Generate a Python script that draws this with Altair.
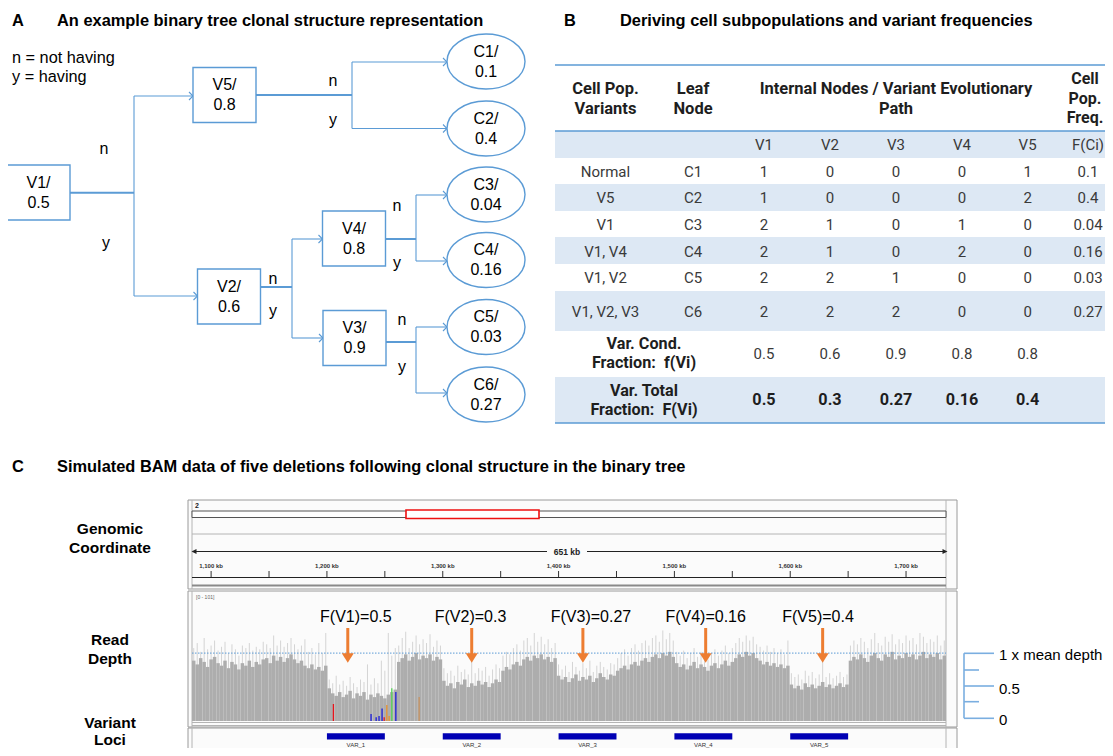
import altair as alt
import pandas as pd

W, H, M = 1097, 740, 8
ARIAL = "Liberation Sans"
TFONT = "Roboto"
BLUE = "#5b9bd5"
NB = "\u00a0"

# ---------------- data: panel A (tree) ----------------
node_names = ["V1", "V5", "V2", "V4", "V3"]
node_frac = ["0.5", "0.8", "0.6", "0.8", "0.9"]
leaf_names = ["C1", "C2", "C3", "C4", "C5", "C6"]
leaf_frac = ["0.1", "0.4", "0.04", "0.16", "0.03", "0.27"]

# ---------------- data: panel B (table) ----------------
cell_variants = ["Normal", "V5", "V1", "V1, V4", "V1, V2", "V1, V2, V3"]
leaf_nodes = ["C1", "C2", "C3", "C4", "C5", "C6"]
variant_cols = ["V1", "V2", "V3", "V4", "V5"]
path_matrix = [
    [1, 0, 0, 0, 1],
    [1, 0, 0, 0, 2],
    [2, 1, 0, 1, 0],
    [2, 1, 0, 2, 0],
    [2, 2, 1, 0, 0],
    [2, 2, 2, 0, 0],
]
cell_freq = ["0.1", "0.4", "0.04", "0.16", "0.03", "0.27"]
cond_frac = ["0.5", "0.6", "0.9", "0.8", "0.8"]
total_frac = ["0.5", "0.3", "0.27", "0.16", "0.4"]

# ---------------- data: panel C (read depth, 3 kb bins) ----------------
bin_start_kb = 1083.5
bin_kb = 3.0
depth_r1 = [48, 45, 50, 47, 43, 49, 51, 46, 44, 48, 42, 47, 45, 41, 46, 44, 48, 43, 47, 45,
            49, 50, 46, 52, 48, 51, 47, 50, 53, 49, 46, 48, 44, 42, 45, 41, 43, 40, 44]
depth_v1 = [26, 22, 20, 23, 19, 21, 24, 18, 22, 20, 23, 17, 21, 19, 22, 20, 18, 21, 23, 25]
depth_r3 = [47, 50, 53, 48, 51, 54, 49, 52, 50, 53, 48, 51, 49]
depth_v2 = [32, 28, 30, 26, 31, 29, 33, 27, 30, 28, 32, 29, 31, 27, 30, 33, 31]
depth_r5 = [40, 43, 41, 45, 47, 44, 49, 51, 48, 52, 50, 53, 49, 51, 47, 50]
depth_v3 = [36, 33, 35, 31, 34, 37, 32, 35, 33, 36, 31, 34, 38, 35, 33, 37, 36]
depth_r7 = [40, 42, 44, 41, 45, 47, 44, 48, 50, 47, 51, 53, 50, 54, 52, 55, 51]
depth_v4 = [46, 43, 45, 41, 44, 47, 42, 45, 43, 40, 44, 46, 42, 45, 48, 44, 47]
depth_r9 = [50, 53, 51, 55, 52, 54, 50, 48, 45, 47, 44, 46, 43, 45, 42, 44]
depth_v5 = [29, 26, 28, 25, 30, 27, 29, 26, 28, 31, 27, 29, 26, 28, 30, 27, 29]
depth_r11 = [48, 51, 49, 53, 50, 47, 52, 54, 50, 48, 53, 51, 55, 49, 52, 50, 54, 51, 53, 49,
             52, 55, 50, 53, 51, 54, 49, 52]

peak_r1 = [58, 62, 55, 66, 57, 60, 64, 56, 59, 63, 54, 61, 57, 52, 60, 58, 62, 56, 59, 57,
           63, 61, 58, 68, 60, 64, 59, 62, 66, 61, 57, 60, 65, 55, 58, 53, 62, 54, 70]
peak_v1 = [33, 30, 36, 29, 32, 28, 35, 30, 27, 33, 31, 45, 29, 34, 30, 48, 40, 70, 52, 58]
peak_r3 = [60, 66, 71, 58, 63, 68, 61, 65, 62, 69, 59, 64, 60]
peak_v2 = [42, 38, 40, 36, 44, 39, 41, 37, 49, 38, 42, 40, 43, 36, 41, 45, 42]
peak_r5 = [52, 55, 53, 58, 61, 56, 64, 66, 60, 70, 63, 67, 61, 65, 58, 62]
peak_v3 = [45, 41, 44, 39, 47, 43, 40, 46, 42, 48, 39, 44, 47, 43, 41, 46, 45]
peak_r7 = [50, 54, 57, 52, 58, 61, 56, 62, 64, 60, 66, 68, 63, 72, 65, 70, 64]
peak_v4 = [55, 52, 56, 50, 54, 58, 51, 55, 53, 49, 54, 57, 52, 56, 60, 54, 58]
peak_r9 = [62, 66, 63, 68, 64, 67, 61, 59, 56, 60, 55, 58, 54, 57, 53, 64]
peak_v5 = [38, 35, 37, 33, 40, 36, 39, 34, 37, 52, 35, 38, 34, 36, 39, 35, 37]
peak_r11 = [60, 64, 61, 66, 63, 58, 65, 70, 62, 60, 67, 63, 69, 61, 65, 62, 68, 64, 66, 61,
            70, 67, 62, 65, 63, 68, 60, 64]

mean_depth = 54
snv_kb = [1205.6, 1238.1, 1242.5, 1245.0, 1247.6, 1249.4, 1251.7, 1253.7, 1256.0, 1259.5, 1279.6]
snv_depth = [13.5, 5.6, 3, 4, 10, 3, 12.7, 4, 26, 23, 19]
snv_color = ["#e8141c", "#1b1bd9", "#1b1bd9", "#1b1bd9", "#1b1bd9", "#e8141c", "#e8902a",
             "#e8902a", "#55d455", "#1b1bd9", "#c8925e"]

var_names = ["VAR_1", "VAR_2", "VAR_3", "VAR_4", "VAR_5"]
var_start_kb = [1200, 1300, 1400, 1500, 1600]
var_end_kb = [1250, 1350, 1450, 1550, 1650]
var_freq_labels = ["F(V1)=0.5", "F(V2)=0.3", "F(V3)=0.27", "F(V4)=0.16", "F(V5)=0.4"]
arrow_kb = [1218, 1325, 1421, 1527, 1628]
label_kb = [1225, 1324, 1428, 1527, 1624]
ruler_tick_kb = list(range(1100, 1701, 50))
ruler_label_kb = list(range(1100, 1701, 100))

# ---------------- scales ----------------
def CX():
    return alt.Scale(domain=[M, M + W], range=[0, W], nice=False, zero=False)

def CY():
    return alt.Scale(domain=[M, M + H], range=[0, H], nice=False, zero=False)

def KB():
    return alt.Scale(domain=[1083.5, 1734.5], range=[192 - M, 946 - M], nice=False, zero=False)

def RD():
    return alt.Scale(domain=[0, 101], range=[721 - M, 594 - M], nice=False, zero=False)

def X(f, s=None):
    return alt.X(f, type="quantitative", scale=s if s is not None else CX(), axis=None)

def Y(f, s=None):
    return alt.Y(f, type="quantitative", scale=s if s is not None else CY(), axis=None)

def lines(items, gap):
    """split (x, first_line_y, 'a\\nb') into one row per text line"""
    rows = []
    for x, y, t in items:
        for i, part in enumerate(t.split("\n")):
            rows.append({"x": x, "y": y + i * gap, "t": part})
    return pd.DataFrame(rows)

def text_layer(df, **mk):
    return alt.Chart(df).mark_text(**mk).encode(x=X("x"), y=Y("y"), text="t:N")

def seg_layer(df, **mk):
    return alt.Chart(df).mark_rule(**mk).encode(x=X("x"), x2=alt.X2("x2"), y=Y("y"), y2=alt.Y2("y2"))

def rect_layer(df, **mk):
    return alt.Chart(df).mark_rect(**mk).encode(x=X("x"), x2=alt.X2("x2"), y=Y("y"), y2=alt.Y2("y2"))

L = []

# ---------------- titles ----------------
L.append(text_layer(pd.DataFrame({"x": [12, 564, 12], "y": [21, 21, 467], "t": ["A", "B", "C"]}),
                    font=ARIAL, fontSize=16.4, fontWeight="bold", align="left", baseline="middle", color="black"))
L.append(text_layer(pd.DataFrame({
    "x": [57, 620, 57], "y": [21, 21, 467],
    "t": ["An example binary tree clonal structure representation",
          "Deriving cell subpopulations and variant frequencies",
          "Simulated BAM data of five deletions following clonal structure in the binary tree"]}),
    font=ARIAL, fontSize=16.4, fontWeight="bold", align="left", baseline="middle", color="black"))

# ---------------- panel A: tree ----------------
L.append(text_layer(pd.DataFrame({"x": [12, 12], "y": [58, 77], "t": ["n = not having", "y = having"]}),
                    font=ARIAL, fontSize=16.3, align="left", baseline="middle", color="black"))

box_cx = [38.5, 224.5, 229, 354, 354.5]
box_cy = [192.5, 95, 296.5, 238.5, 338]
box_w, box_h = 63, 55
leaf_cx = 486
leaf_cy = [61.5, 128.5, 194.5, 260, 327, 394.5]
leaf_left = 447
line_gap = 20

# parent index -> (junction x, stem y, [(child y, child left x)])
tree_links = {
    0: (134, 192.7, [(96, 193), (296, 197.5)]),
    1: (352, 95, [(62, leaf_left), (128.5, leaf_left)]),
    2: (292, 287, [(239, 322.5), (338, 323)]),
    3: (416, 239, [(195, leaf_left), (261, leaf_left)]),
    4: (416, 342, [(327, leaf_left), (393, leaf_left)]),
}
stems, branches, heads = [], [], []
for p, (jx, sy, kids) in tree_links.items():
    stems.append({"x": box_cx[p] + box_w / 2, "x2": jx, "y": sy, "y2": sy})
    branches.append({"x": jx, "x2": jx, "y": kids[0][0], "y2": kids[1][0]})
    for ky, kx in kids:
        branches.append({"x": jx, "x2": kx, "y": ky, "y2": ky})
        heads.append({"x": kx, "y": ky})
L.append(seg_layer(pd.DataFrame(branches), color=BLUE, strokeWidth=1.1))
L.append(seg_layer(pd.DataFrame(stems), color=BLUE, strokeWidth=2))
L.append(alt.Chart(pd.DataFrame(heads)).mark_point(
    shape="M-1,-1L0,0L-1,1", size=64, filled=False, stroke=BLUE, strokeWidth=1.1, opacity=1
).encode(x=X("x"), y=Y("y")))

boxes = pd.DataFrame({
    "x": [c - box_w / 2 for c in box_cx], "x2": [c + box_w / 2 for c in box_cx],
    "y": [c - box_h / 2 for c in box_cy], "y2": [c + box_h / 2 for c in box_cy]})
L.append(rect_layer(boxes, fill="white", stroke=BLUE, strokeWidth=1.4))
L.append(alt.Chart(pd.DataFrame({"x": [leaf_cx] * 6, "y": leaf_cy})).mark_point(
    shape="M-1,0A1,0.705,0,1,1,1,0A1,0.705,0,1,1,-1,0Z", size=6084, filled=True,
    fill="white", stroke=BLUE, strokeWidth=1.4, opacity=1
).encode(x=X("x"), y=Y("y")))

node_items = ([(x, y - line_gap / 2, f"{n}/\n{v}") for x, y, n, v in zip(box_cx, box_cy, node_names, node_frac)] +
              [(leaf_cx, y - line_gap / 2, f"{n}/\n{v}") for y, n, v in zip(leaf_cy, leaf_names, leaf_frac)])
L.append(text_layer(lines(node_items, line_gap), font=ARIAL, fontSize=16, align="center",
                    baseline="middle", color="black"))

ny = pd.DataFrame({
    "x": [104, 106, 333, 333, 273, 273, 397, 397, 402, 402],
    "y": [149, 243, 81, 120, 279, 311, 206, 263, 320, 367],
    "t": ["n", "y"] * 5})
L.append(text_layer(ny, font=ARIAL, fontSize=16, align="center", baseline="middle", color="black"))

# ---------------- panel B: table ----------------
tbl_x0, tbl_x1 = 555, 1113
shade = pd.DataFrame({"x": [tbl_x0] * 5, "x2": [tbl_x1] * 5,
                      "y": [131, 184, 237, 291, 377], "y2": [158, 211, 264, 331, 423]})
L.append(rect_layer(shade, fill="#dde8f4", strokeWidth=0))
L.append(seg_layer(pd.DataFrame({"x": [tbl_x0] * 3, "x2": [tbl_x1] * 3,
                                 "y": [65, 131, 423], "y2": [65, 131, 423]}),
                   color=BLUE, strokeWidth=1.6))

col_x = [605.5, 693, 764, 830, 896, 962, 1027.6, 1088]
row_y = [172, 198, 225, 252, 278, 312]
hdr = lines([(605.5, 89, "Cell Pop.\nVariants"), (693, 89, "Leaf\nNode"),
             (896, 89, "Internal Nodes / Variant Evolutionary\nPath")], 19.5)
L.append(text_layer(hdr, font=TFONT, fontSize=16.5, fontWeight="bold", align="center",
                    baseline="middle", color="#1e1e1e"))
L.append(text_layer(lines([(1085, 79, "Cell\nPop.\nFreq.")], 19.5), font=TFONT, fontSize=16,
                    fontWeight="bold", align="center", baseline="middle", color="#1e1e1e"))

body = []
for k, v in enumerate(variant_cols):
    body.append({"x": col_x[2 + k], "y": 145, "t": v})
body.append({"x": col_x[7], "y": 145, "t": "F(Ci)"})
for r in range(6):
    body.append({"x": col_x[0], "y": row_y[r], "t": cell_variants[r]})
    body.append({"x": col_x[1], "y": row_y[r], "t": leaf_nodes[r]})
    for k in range(5):
        body.append({"x": col_x[2 + k], "y": row_y[r], "t": str(path_matrix[r][k])})
    body.append({"x": col_x[7], "y": row_y[r], "t": cell_freq[r]})
for k in range(5):
    body.append({"x": col_x[2 + k], "y": 354, "t": cond_frac[k]})
L.append(text_layer(pd.DataFrame(body), font=TFONT, fontSize=15, align="center",
                    baseline="middle", color="#3a3a3a"))

bold_rows = lines([(644, 344, f"Var. Cond.\nFraction:{NB}{NB}f(Vi)"),
                   (644, 391, f"Var. Total\nFraction:{NB}{NB}F(Vi)")], 19)
bold_vals = pd.DataFrame({"x": col_x[2:7], "y": [400] * 5, "t": total_frac})
L.append(text_layer(pd.concat([bold_rows, bold_vals], ignore_index=True), font=TFONT,
                    fontSize=16.2, fontWeight="bold", align="center", baseline="middle",
                    color="#1e1e1e"))

# ---------------- panel C: IGV view ----------------
L.append(text_layer(pd.DataFrame({"x": [110] * 6, "y": [529, 548, 640, 659, 723, 740],
                                  "t": ["Genomic", "Coordinate", "Read", "Depth", "Variant", "Loci"]}),
                    font=ARIAL, fontSize=15.5, fontWeight="bold", align="center", baseline="middle",
                    color="black"))

frames = pd.DataFrame({"x": [188, 188, 188], "x2": [957, 957, 957],
                       "y": [500, 591, 728], "y2": [589, 727, 775]})
L.append(rect_layer(frames, fill="#fbfbfb", stroke="#9a9a9a", strokeWidth=1))
inner = []
for y0, y1 in [(500, 589), (591, 727), (728, 775)]:
    inner.append({"x": 192, "x2": 192, "y": y0, "y2": y1})
    inner.append({"x": 946, "x2": 946, "y": y0, "y2": y1})
inner += [{"x": 192, "x2": 946, "y": 534, "y2": 534},
          {"x": 192, "x2": 946, "y": 722.5, "y2": 722.5},
          {"x": 192, "x2": 946, "y": 725.5, "y2": 725.5}]
L.append(seg_layer(pd.DataFrame(inner), color="#b4b4b4", strokeWidth=1))

L.append(rect_layer(pd.DataFrame({"x": [192], "x2": [946], "y": [511], "y2": [517.5]}),
                    fill="white", stroke="#555555", strokeWidth=1))
L.append(rect_layer(pd.DataFrame({"x": [406], "x2": [539], "y": [510], "y2": [518.5]}),
                    fill="white", stroke="#ee1111", strokeWidth=1.6))
L.append(text_layer(pd.DataFrame({"x": [195], "y": [506], "t": ["2"]}),
                    font=ARIAL, fontSize=7, fontWeight="bold", align="left", baseline="middle",
                    color="#222"))
L.append(seg_layer(pd.DataFrame({"x": [196, 192], "x2": [943, 946], "y": [551.5, 577.5],
                                 "y2": [551.5, 577.5]}), color="#222", strokeWidth=1))
L.append(seg_layer(pd.DataFrame({"x": [192], "x2": [946], "y": [585.5], "y2": [585.5]}),
                   color="#8a8a8a", strokeWidth=2))
L.append(alt.Chart(pd.DataFrame({"x": [194, 945], "y": [551.5, 551.5],
                                 "s": ["M1,-1L-1,0L1,1Z", "M-1,-1L1,0L-1,1Z"]})).mark_point(
    filled=True, size=25, color="#222", opacity=1
).encode(x=X("x"), y=Y("y"), shape=alt.Shape("s:N", scale=None)))
L.append(rect_layer(pd.DataFrame({"x": [547], "x2": [587], "y": [546], "y2": [557]}),
                    fill="#fbfbfb", strokeWidth=0))
L.append(text_layer(pd.DataFrame({"x": [567], "y": [551.5], "t": ["651 kb"]}),
                    font=ARIAL, fontSize=8.5, fontWeight="bold", align="center", baseline="middle",
                    color="#222"))

L.append(alt.Chart(pd.DataFrame({"kb": ruler_tick_kb, "y": [571] * len(ruler_tick_kb),
                                 "y2": [577] * len(ruler_tick_kb)})).mark_rule(
    color="#333", strokeWidth=1).encode(x=X("kb", KB()), y=Y("y"), y2=alt.Y2("y2")))
L.append(alt.Chart(pd.DataFrame({"kb": ruler_label_kb, "y": [565.5] * len(ruler_label_kb),
                                 "t": [f"{k:,} kb" for k in ruler_label_kb]})).mark_text(
    font=ARIAL, fontSize=6, fontWeight="bold", align="center", baseline="middle", color="#333"
).encode(x=X("kb", KB()), y=Y("y"), text="t:N"))

# coverage
depth = (depth_r1 + depth_v1 + depth_r3 + depth_v2 + depth_r5 + depth_v3 + depth_r7 +
         depth_v4 + depth_r9 + depth_v5 + depth_r11)
peak = (peak_r1 + peak_v1 + peak_r3 + peak_v2 + peak_r5 + peak_v3 + peak_r7 +
        peak_v4 + peak_r9 + peak_v5 + peak_r11)
n = len(depth)
cov = pd.DataFrame({
    "s": [bin_start_kb + bin_kb * i for i in range(n)],
    "e": [bin_start_kb + bin_kb * (i + 1) for i in range(n)],
    "c": [bin_start_kb + bin_kb * (i + 0.5) for i in range(n)],
    "d": depth, "p": peak, "z": [0] * n})
L.append(text_layer(pd.DataFrame({"x": [196], "y": [597], "t": ["[0 - 101]"]}),
                    font=ARIAL, fontSize=5, align="left", baseline="middle", color="#666"))
L.append(alt.Chart(cov).mark_rule(color="#d4d4d4", strokeWidth=1).encode(
    x=X("c", KB()), y=Y("z", RD()), y2=alt.Y2("p")))
L.append(alt.Chart(cov).mark_rect(color="#adadad").encode(
    x=X("s", KB()), x2=alt.X2("e"), y=Y("z", RD()), y2=alt.Y2("d")))
L.append(alt.Chart(pd.DataFrame({"kb": snv_kb, "d": snv_depth, "col": snv_color,
                                 "z": [0] * len(snv_kb)})).mark_rule(strokeWidth=1.3).encode(
    x=X("kb", KB()), y=Y("z", RD()), y2=alt.Y2("d"), color=alt.Color("col:N", scale=None)))
L.append(alt.Chart(pd.DataFrame({"a": [1083.5], "b": [1734.5], "m": [mean_depth]})).mark_rule(
    color=BLUE, strokeWidth=1, strokeDash=[1.5, 1.5]).encode(
    x=X("a", KB()), x2=alt.X2("b"), y=Y("m", RD())))

# orange arrows and labels
L.append(alt.Chart(pd.DataFrame({"kb": arrow_kb, "y": [628] * 5, "y2": [655] * 5})).mark_rule(
    color="#ed7d31", strokeWidth=3).encode(x=X("kb", KB()), y=Y("y"), y2=alt.Y2("y2")))
L.append(alt.Chart(pd.DataFrame({"kb": arrow_kb, "y": [658] * 5})).mark_point(
    shape="M-1,-0.8L1,-0.8L0,0.8Z", size=144, filled=True, color="#ed7d31", opacity=1
).encode(x=X("kb", KB()), y=Y("y")))
L.append(alt.Chart(pd.DataFrame({"kb": label_kb, "y": [617] * 5, "t": var_freq_labels})).mark_text(
    font=ARIAL, fontSize=16, align="center", baseline="middle", color="black"
).encode(x=X("kb", KB()), y=Y("y"), text="t:N"))

# variant loci track
L.append(alt.Chart(pd.DataFrame({"s": var_start_kb, "e": var_end_kb, "y": [733.3] * 5,
                                 "y2": [739.5] * 5})).mark_rect(color="#0000b4").encode(
    x=X("s", KB()), x2=alt.X2("e"), y=Y("y"), y2=alt.Y2("y2")))
L.append(alt.Chart(pd.DataFrame({"kb": [(a + b) / 2 for a, b in zip(var_start_kb, var_end_kb)],
                                 "y": [744.5] * 5, "t": var_names})).mark_text(
    font=ARIAL, fontSize=6, align="center", baseline="middle", color="#333"
).encode(x=X("kb", KB()), y=Y("y"), text="t:N"))

# right-side depth scale bracket
bracket = pd.DataFrame({
    "x": [964, 964, 964, 964, 964, 964], "x2": [964, 994, 979, 994, 979, 994],
    "y": [653.3, 653.3, 670, 686, 701.7, 718.3], "y2": [718.3, 653.3, 670, 686, 701.7, 718.3]})
L.append(seg_layer(bracket, color="#7aaee0", strokeWidth=1.6))
L.append(text_layer(pd.DataFrame({"x": [999, 999, 999], "y": [655, 689, 720],
                                  "t": ["1 x mean depth", "0.5", "0"]}),
                    font=ARIAL, fontSize=15, align="left", baseline="middle", color="black"))

chart = alt.layer(*L).resolve_scale(x="independent", y="independent").properties(
    width=W, height=H, padding=0, autosize=alt.AutoSizeParams(type="none"),
    background="white"
).configure_view(stroke=None)

chart.save("out.html", embed_options={"renderer": "svg", "actions": False})
